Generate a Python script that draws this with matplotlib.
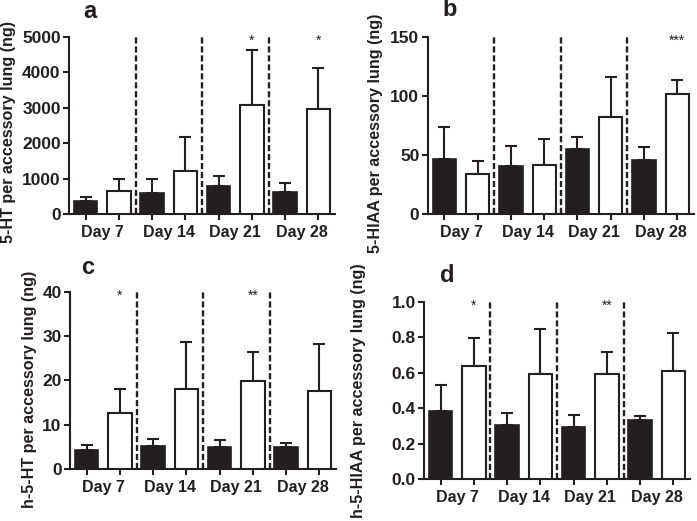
import matplotlib
matplotlib.use("Agg")
import matplotlib.pyplot as plt
import matplotlib.transforms as mtransforms
import numpy as np

plt.rcParams['font.family'] = ['Liberation Sans', 'DejaVu Sans']

days = ["Day 7", "Day 14", "Day 21", "Day 28"]

# Panel a: 5-HT
a_black = [366, 592, 789, 629]
a_black_sem = [104, 385, 281, 254]
a_white = [638, 1202, 3070, 2948]
a_white_sem = [348, 958, 1550, 1174]
a_stars = ["", "", "*", "*"]

# Panel b: 5-HIAA
b_black = [46.7, 41.1, 55.1, 45.9]
b_black_sem = [27.3, 16.6, 9.9, 10.7]
b_white = [33.8, 41.6, 82.2, 101.9]
b_white_sem = [11.2, 22.0, 33.4, 11.8]
b_stars = ["", "", "", "***"]

# Panel c: h-5-HT
c_black = [4.36, 5.2, 5.0, 5.0]
c_black_sem = [1.14, 1.6, 1.5, 0.9]
c_white = [12.6, 18.0, 19.9, 17.5]
c_white_sem = [5.4, 10.7, 6.5, 10.7]
c_stars = ["*", "", "**", ""]

# Panel d: h-5-HIAA
d_black = [0.382, 0.306, 0.291, 0.331]
d_black_sem = [0.148, 0.068, 0.070, 0.026]
d_white = [0.637, 0.594, 0.590, 0.607]
d_white_sem = [0.158, 0.252, 0.124, 0.214]
d_stars = ["*", "", "**", ""]

W, H = 697, 521
fig = plt.figure(figsize=(W / 100, H / 100), dpi=100)
DARK = "#231f20"


def px_axes(left, right, top, bottom):
    return fig.add_axes([left / W, (H - bottom) / H, (right - left) / W, (bottom - top) / H])


def panel(ax, black, bsem, white, wsem, stars, ymax, yticks, yfmt, ylabel, letter,
          label_xy, letter_xy):
    n = len(days)
    xb = np.arange(n) * 2
    xw = xb + 1
    ax.bar(xb, black, width=0.7, color=DARK, edgecolor=DARK, linewidth=1.2, zorder=3)
    ax.bar(xw, white, width=0.7, color="white", edgecolor=DARK, linewidth=1.5, zorder=3)
    ax.errorbar(xb, black, yerr=[np.zeros(n), bsem], fmt="none", ecolor=DARK,
                elinewidth=1.5, capsize=4, capthick=1.5, zorder=2)
    ax.errorbar(xw, white, yerr=[np.zeros(n), wsem], fmt="none", ecolor=DARK,
                elinewidth=1.5, capsize=4, capthick=1.5, zorder=2)
    for xv in xw[:-1] + 0.5:
        ax.axvline(xv, ymin=0, ymax=1, color=DARK, linewidth=1.7,
                   linestyle=(0, (2.6, 1.2)), zorder=1)
    ax.set_xlim(-0.5, 2 * n - 0.5)
    ax.set_ylim(0, ymax)
    ax.set_yticks(yticks)
    ax.set_yticklabels([yfmt.format(v) for v in yticks])
    ax.set_xticks(np.arange(2 * n))
    ax.set_xticklabels([])
    ax.set_xticks(xb + 0.5, minor=True)
    ax.set_xticklabels(days, minor=True)
    ax.tick_params(axis="x", which="major", direction="out", length=4, width=1.5, color=DARK)
    ax.tick_params(axis="x", which="minor", length=0, pad=8, labelsize=11.5)
    ax.tick_params(axis="y", direction="out", length=4, width=1.5, color=DARK, pad=2,
                   labelsize=12.5)
    for lab in ax.get_xticklabels(minor=True) + ax.get_yticklabels():
        lab.set_fontweight("bold")
        lab.set_color(DARK)
    for s in ["top", "right"]:
        ax.spines[s].set_visible(False)
    for s in ["left", "bottom"]:
        ax.spines[s].set_linewidth(1.5)
        ax.spines[s].set_color(DARK)
    ax.set_ylabel(ylabel, fontsize=11.6, fontweight="bold", color=DARK)
    ax.yaxis.set_label_coords(*label_xy)
    trans = mtransforms.blended_transform_factory(ax.transData, ax.transAxes)
    for xv, st in zip(xw, stars):
        if st:
            ax.text(xv, 0.955, st, transform=trans, ha="center", va="baseline",
                    fontsize=10, color=DARK)
    fig.text(letter_xy[0] / W, 1 - letter_xy[1] / H, letter, fontsize=17,
             fontweight="bold", color=DARK, ha="center", va="center")


ax_a = px_axes(69, 335, 36.7, 214)
panel(ax_a, a_black, a_black_sem, a_white, a_white_sem, a_stars, 5000,
      [0, 1000, 2000, 3000, 4000, 5000], "{:d}", "5-HT per accessory lung (ng)", "a",
      (-0.199, 0.46), (90, 12))

ax_b = px_axes(427.7, 694, 36.7, 214.3)
panel(ax_b, b_black, b_black_sem, b_white, b_white_sem, b_stars, 150,
      [0, 50, 100, 150], "{:d}", "5-HIAA per accessory lung (ng)", "b",
      (-0.168, 0.455), (450, 10))

ax_c = px_axes(70, 336, 291.7, 469)
panel(ax_c, c_black, c_black_sem, c_white, c_white_sem, c_stars, 40,
      [0, 10, 20, 30, 40], "{:d}", "h-5-HT per accessory lung (ng)", "c",
      (-0.124, 0.45), (88, 267))

ax_d = px_axes(424, 690, 301.7, 479)
panel(ax_d, d_black, d_black_sem, d_white, d_white_sem, d_stars, 1.0,
      [0.0, 0.2, 0.4, 0.6, 0.8, 1.0], "{:.1f}", "h-5-HIAA per accessory lung (ng)", "d",
      (-0.218, 0.5), (447, 275))

fig.savefig("out.png", dpi=100)
